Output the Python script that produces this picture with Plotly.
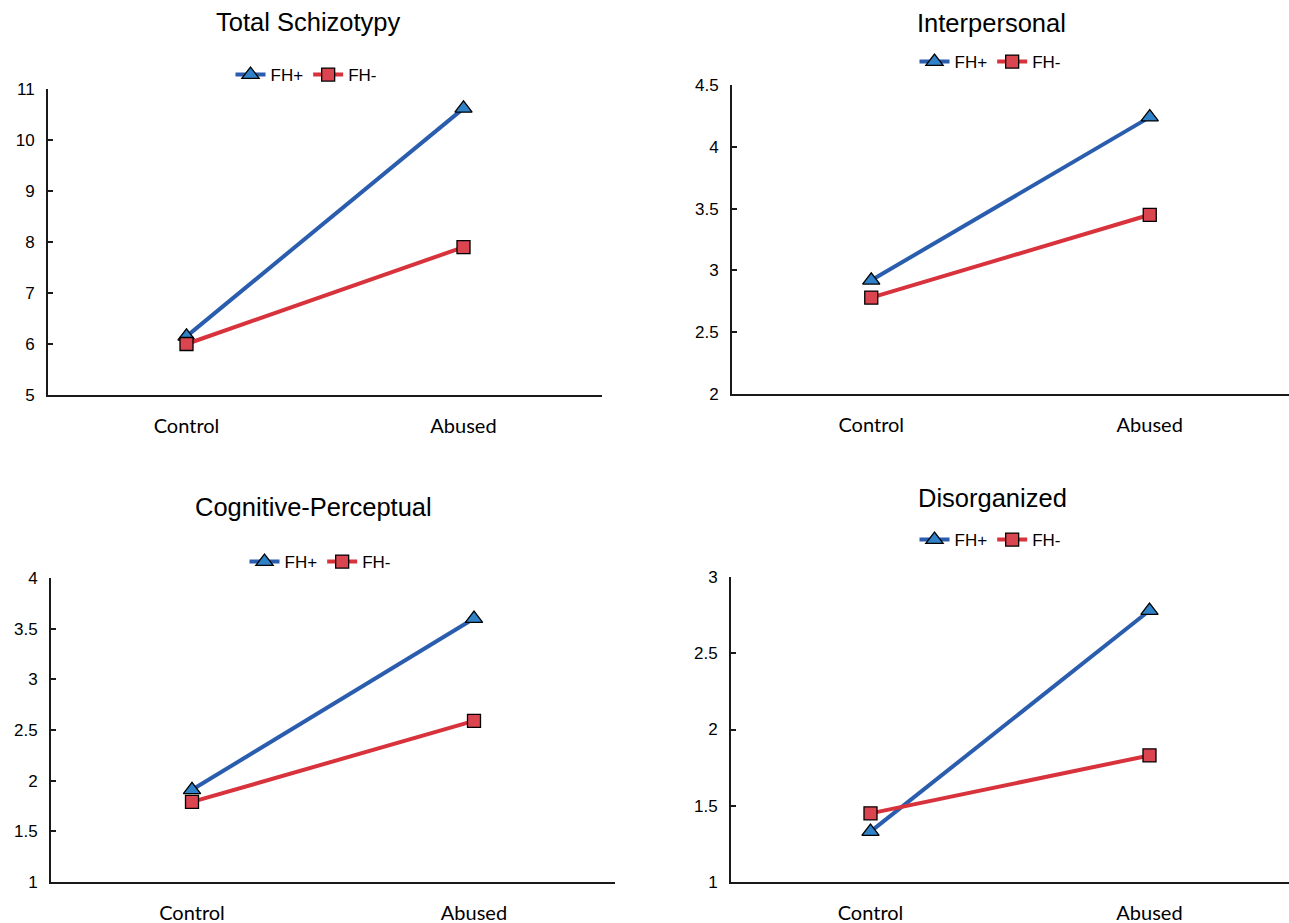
import plotly.graph_objects as go

W, H = 1289, 923

categories = ["Control", "Abused"]
series_names = ["FH+", "FH-"]
panel_titles = ["Total Schizotypy", "Interpersonal", "Cognitive-Perceptual", "Disorganized"]

total_fh_pos = [6.15, 10.62]
total_fh_neg = [6.0, 7.9]
inter_fh_pos = [2.92, 4.24]
inter_fh_neg = [2.78, 3.45]
cog_fh_pos = [1.91, 3.60]
cog_fh_neg = [1.79, 2.59]
dis_fh_pos = [1.33, 2.78]
dis_fh_neg = [1.45, 1.83]

y_ranges = [[5, 11], [2, 4.5], [1, 4], [1, 3]]
y_dticks = [1, 0.5, 0.5, 0.5]

# layout in pixels: (x_left, x_right, y_bottom, y_top)
panels_px = [
    (48, 602, 395, 89),
    (732, 1290, 394, 85),
    (51, 615, 882, 578),
    (731, 1291, 882, 577),
]
title_px = [(308, 22), (991, 23), (313, 507), (992, 498)]
legend_px = [(306, 75), (990, 62), (320, 562), (990, 540)]

data = [
    (total_fh_pos, total_fh_neg),
    (inter_fh_pos, inter_fh_neg),
    (cog_fh_pos, cog_fh_neg),
    (dis_fh_pos, dis_fh_neg),
]

BLUE_LINE = "#2B5DAE"
BLUE_FILL = "#2F82C8"
RED_LINE = "#D8333D"
RED_FILL = "#DA4550"

fig = go.Figure()
layout = dict(
    width=W, height=H, autosize=False,
    margin=dict(l=0, r=0, t=0, b=0, pad=0, autoexpand=False),
    paper_bgcolor="white", plot_bgcolor="white",
    showlegend=True,
    annotations=[],
)

def px2x(px):
    return min(max(px / W, 0), 1)

def py2y(py):
    return min(max(1 - py / H, 0), 1)

for i in range(4):
    n = "" if i == 0 else str(i + 1)
    leg = "legend" if i == 0 else f"legend{i + 1}"
    pos, neg = data[i]
    fig.add_trace(go.Scatter(
        x=categories, y=pos, name=series_names[0], mode="lines+markers",
        line=dict(color=BLUE_LINE, width=4),
        marker=dict(symbol="triangle-up", size=15, color=BLUE_FILL,
                    line=dict(color="black", width=1.3)),
        xaxis="x" + n, yaxis="y" + n, legend=leg,
    ))
    fig.add_trace(go.Scatter(
        x=categories, y=neg, name=series_names[1], mode="lines+markers",
        line=dict(color=RED_LINE, width=4),
        marker=dict(symbol="square", size=13, color=RED_FILL,
                    line=dict(color="black", width=1.3)),
        xaxis="x" + n, yaxis="y" + n, legend=leg,
    ))
    xl, xr, yb, yt = panels_px[i]
    layout["xaxis" + n] = dict(
        domain=[px2x(xl), px2x(xr)], anchor="y" + n,
        type="category", range=[-0.5, 1.5], automargin=False,
        showline=True, linecolor="#1a1a1a", linewidth=2,
        showgrid=False, zeroline=False, ticks="",
        tickfont=dict(family="Lato, Open Sans, sans-serif", size=20, color="black"),
        ticklabelstandoff=12,
    )
    layout["yaxis" + n] = dict(
        domain=[py2y(yb), py2y(yt)], anchor="x" + n, automargin=False,
        range=y_ranges[i], dtick=y_dticks[i], tick0=y_ranges[i][0],
        showline=True, linecolor="#1a1a1a", linewidth=2,
        showgrid=False, zeroline=False,
        ticks="inside", ticklen=5, tickwidth=2, tickcolor="#1a1a1a",
        tickfont=dict(family="Arial, Liberation Sans, sans-serif", size=17, color="black"),
        ticklabelstandoff=8,
    )
    lx, ly = legend_px[i]
    layout[leg] = dict(
        orientation="h", x=px2x(lx), y=py2y(ly),
        xanchor="center", yanchor="middle",
        bgcolor="rgba(0,0,0,0)", itemwidth=30,
        font=dict(family="Arial, Liberation Sans, sans-serif", size=17, color="black"),
        tracegroupgap=0, itemclick=False,
    )
    tx, ty = title_px[i]
    layout["annotations"].append(dict(
        text=panel_titles[i], x=px2x(tx), y=py2y(ty), xref="paper", yref="paper",
        xanchor="center", yanchor="middle", showarrow=False,
        font=dict(family="Arial, Liberation Sans, sans-serif", size=25.5, color="black"),
    ))

fig.update_layout(**layout)
fig.write_html(
    "out.html",
    config={"displayModeBar": False},
    post_script=(
        "document.body.style.margin='0';"
        "document.body.style.overflow='hidden';"
        "document.documentElement.style.overflow='hidden';"
    ),
)
